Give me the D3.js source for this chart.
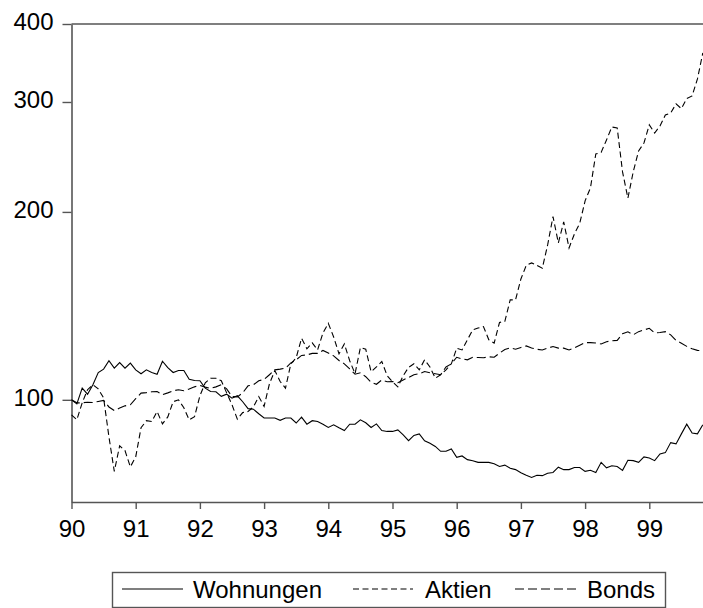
<!DOCTYPE html>
<html><head><meta charset="utf-8">
<script src="https://cdn.jsdelivr.net/npm/d3@7"></script>
<style>body{margin:0;background:#fff} svg{display:block}</style>
</head><body><svg id="c" width="703" height="608"></svg>
<script>
// Monthly observations 1990:01 – 1999:11 (index, log scale)
const wohnungen = [
100, 98.5, 104.4, 102.1, 105.7, 110.6, 112.0, 115.5, 112.4, 114.7,
112.4, 114.5, 111.7, 110.1, 111.7, 110.6, 109.9, 115.3, 112.6, 110.6,
111.4, 111.4, 107.9, 107.4, 107.3, 104.4, 103.1, 103.0, 101.3, 102.1,
100.6, 101.5, 99.3, 96.8, 96.6, 95.0, 93.5, 93.5, 93.5, 92.7,
93.5, 93.5, 91.8, 93.8, 91.4, 92.6, 92.3, 91.4, 90.3, 91.2,
90.2, 89.3, 91.4, 91.4, 92.9, 91.9, 90.3, 91.5, 89.3, 89.0,
89.0, 89.5, 87.9, 86.0, 87.7, 88.2, 86.0, 85.2, 84.2, 82.7,
82.7, 83.4, 80.9, 81.3, 80.2, 79.9, 79.4, 79.4, 79.4, 79.0,
78.2, 78.6, 77.7, 77.3, 76.4, 75.7, 75.1, 75.7, 75.6, 76.3,
76.5, 78.0, 77.3, 77.3, 77.9, 77.9, 76.8, 77.1, 76.5, 79.4,
77.8, 78.4, 78.2, 77.1, 80.0, 79.9, 79.4, 81.0, 80.7, 79.9,
81.9, 82.3, 85.4, 85.0, 88.2, 91.4, 88.5, 88.2, 91.2
];
const aktien = [
94.6, 92.9, 98.9, 103.8, 105.7, 104.1, 100.7, 87.2, 76.8, 84.4,
82.9, 78.1, 81.0, 90.2, 92.6, 92.3, 95.8, 91.5, 93.9, 99.3,
100.0, 97.1, 92.9, 94.0, 101.5, 106.5, 108.3, 108.3, 107.3, 102.6,
98.2, 93.1, 95.4, 95.8, 97.4, 101.2, 97.6, 106.1, 111.4, 107.0,
104.4, 114.2, 116.8, 125.5, 120.7, 123.4, 120.2, 128.0, 132.6, 126.1,
118.5, 122.9, 115.5, 110.1, 121.3, 120.5, 110.9, 112.9, 115.2, 109.3,
106.9, 104.9, 109.3, 112.7, 114.2, 111.7, 115.9, 112.9, 108.3, 109.7,
111.7, 114.2, 121.0, 120.2, 124.8, 129.4, 130.3, 131.0, 124.8, 123.3,
133.0, 133.6, 144.6, 144.6, 156.2, 164.2, 165.7, 164.2, 162.5, 177.1,
196.6, 178.4, 192.8, 175.1, 184.4, 191.8, 208.3, 218.5, 247.7, 249.1,
260.8, 273.6, 272.6, 231.8, 210.4, 232.0, 250.5, 257.9, 275.7, 267.6,
274.6, 286.0, 288.1, 297.9, 292.7, 303.9, 306.8, 326.6, 359.5
];
const bonds = [
100, 98.9, 98.9, 99.1, 99.0, 99.4, 99.8, 97.4, 96.1, 97.0,
97.8, 98.2, 100.4, 102.5, 102.7, 103.0, 103.1, 101.9, 102.6, 103.4,
103.8, 103.4, 104.1, 104.9, 105.5, 104.8, 104.3, 104.9, 105.7, 104.1,
101.2, 101.1, 102.6, 105.3, 105.7, 107.3, 107.8, 109.7, 111.7, 112.0,
112.4, 114.6, 115.9, 117.8, 118.0, 118.7, 118.7, 120.0, 118.9, 117.6,
115.6, 114.2, 112.1, 109.9, 110.5, 108.9, 106.7, 105.9, 107.6, 106.9,
107.0, 106.5, 107.6, 108.6, 109.7, 110.1, 111.0, 110.5, 110.1, 109.7,
112.9, 114.2, 117.0, 116.3, 115.9, 117.0, 116.9, 116.8, 117.2, 117.0,
118.8, 120.4, 121.1, 120.5, 121.3, 122.0, 121.1, 120.5, 120.2, 121.0,
121.7, 121.0, 121.0, 120.2, 121.1, 122.3, 123.5, 123.5, 123.3, 122.9,
123.9, 124.3, 124.5, 127.6, 128.5, 127.1, 128.6, 129.4, 130.2, 128.0,
128.2, 128.6, 127.1, 124.5, 123.2, 121.8, 120.7, 120.0, 119.9
];
const yearLabels = ["90","91","92","93","94","95","96","97","98","99"];
const yTicks = [100, 200, 300, 400];
const seriesNames = ["Wohnungen", "Aktien", "Bonds"];

const FONT = "'Liberation Sans', Arial, sans-serif";
const AX = "#555";
const svg = d3.select("#c");
const L = 71.5, R = 702.8, T = 24, B = 502;

const n = wohnungen.length;
const x = d3.scaleLinear().domain([0, n - 1]).range([L, R]);
const y = d3.scaleLog().domain([68.6, 400]).range([B, T]);

// top frame line
svg.append("line").attr("x1", L).attr("x2", 703).attr("y1", T).attr("y2", T)
  .attr("stroke", AX).attr("stroke-width", 1.6);

// y axis
const gy = svg.append("g").attr("transform", `translate(${L},0)`)
  .call(d3.axisLeft(y).tickValues(yTicks).tickFormat(d3.format("d"))
    .tickSize(9).tickSizeOuter(0).tickPadding(9));
gy.select(".domain").attr("stroke", AX).attr("stroke-width", 1.6);
gy.selectAll(".tick line").attr("stroke", AX).attr("stroke-width", 1.4);
gy.selectAll("text").attr("font-family", FONT).attr("font-size", 24)
  .attr("fill", "#000").attr("dy", "0.23em");

// x axis
const gx = svg.append("g").attr("transform", `translate(0,${B})`)
  .call(d3.axisBottom(x).tickValues(d3.range(0, n, 12))
    .tickFormat((d, i) => yearLabels[i]).tickSize(7).tickSizeOuter(0).tickPadding(11));
gx.select(".domain").attr("stroke", AX).attr("stroke-width", 1.6);
gx.selectAll(".tick line").attr("stroke", AX).attr("stroke-width", 1.4);
gx.selectAll("text").attr("font-family", FONT).attr("font-size", 24).attr("fill", "#000");

// series
const line = d3.line().x((d, i) => x(i)).y(d => y(d));
const series = [
  {name: seriesNames[0], values: wohnungen, dash: null},
  {name: seriesNames[1], values: aktien, dash: "6,3.5"},
  {name: seriesNames[2], values: bonds, dash: "9,4"}
];
series.forEach(s => {
  svg.append("path").datum(s.values).attr("d", line)
    .attr("fill", "none").attr("stroke", "#000").attr("stroke-width", 1.1)
    .attr("stroke-dasharray", s.dash);
});

// legend
const lg = svg.append("g");
lg.append("rect").attr("x", 112.5).attr("y", 572.5).attr("width", 553).attr("height", 35)
  .attr("fill", "#fff").attr("stroke", AX).attr("stroke-width", 1.4);
const legPos = [{x1: 122, x2: 183, tx: 193}, {x1: 353, x2: 413, tx: 425}, {x1: 515, x2: 577, tx: 587}];
series.forEach((s, i) => {
  const p = legPos[i];
  lg.append("line").attr("x1", p.x1).attr("x2", p.x2).attr("y1", 589).attr("y2", 589)
    .attr("stroke", "#000").attr("stroke-width", 1.1).attr("stroke-dasharray", s.dash);
  lg.append("text").attr("x", p.tx).attr("y", 598).attr("font-family", FONT)
    .attr("font-size", 24).attr("fill", "#000").text(s.name);
});
</script></body></html>
